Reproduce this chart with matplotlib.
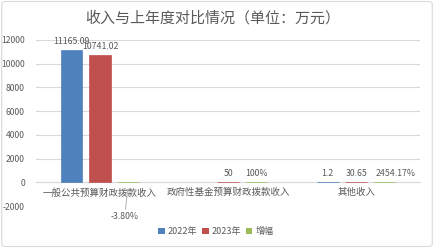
import numpy as np
import matplotlib
matplotlib.use("Agg")
import matplotlib.pyplot as plt
from matplotlib.patches import FancyBboxPatch, Patch

plt.rcParams['font.family'] = ['Noto Sans CJK SC', 'DejaVu Sans']

categories = ["一般公共预算财政拨款收入", "政府性基金预算财政拨款收入", "其他收入"]
series_names = ["2022年", "2023年", "增幅"]
values_2022 = [11165.09, np.nan, 1.2]
values_2023 = [10741.02, 50, 30.65]
growth_pct = [-3.80, 100, 2454.17]
growth_labels = ["-3.80%", "100%", "2454.17%"]
y_ticks = [-2000, 0, 2000, 4000, 6000, 8000, 10000, 12000]

colors = ["#4F81BD", "#C0504D", "#9BBB59"]
text_color = "#595959"
grid_color = "#D9D9D9"

fig = plt.figure(figsize=(4.34, 2.48), dpi=100)
fig.patches.append(FancyBboxPatch((0.004, 0.006), 0.992, 0.988,
                                  boxstyle="round,pad=0,rounding_size=0.01",
                                  transform=fig.transFigure, fill=False,
                                  edgecolor="#D9D9D9", linewidth=0.8))

ax = fig.add_axes([0.083, 0.169, 0.885, 0.670])
x = np.arange(len(categories))
w = 0.17
step = 0.222
growth_vals = [g / 100 for g in growth_pct]
series = [values_2022, values_2023, growth_vals]

for i, (vals, c) in enumerate(zip(series, colors)):
    vals = np.asarray(vals, dtype=float)
    ok = ~np.isnan(vals)
    xs = x + (i - 1) * step
    ax.bar(xs[ok], vals[ok], width=w, color=c, edgecolor=c,
           linewidth=0.5, zorder=3)

fs = 6.3
# value labels for the two year series
for i, vals in enumerate([values_2022, values_2023]):
    for j, v in enumerate(vals):
        if np.isnan(v):
            continue
        xs = x[j] + (i - 1) * step
        ax.annotate(f"{v:g}" if v < 100 else f"{v:.2f}", (xs, v),
                    xytext=(0, 3), textcoords="offset points",
                    ha="center", va="bottom", fontsize=fs, color=text_color)
# growth labels (the widest one is nudged right to clear its neighbour)
label_shift = [0, 0, 8]
for j, (g, lab) in enumerate(zip(growth_vals, growth_labels)):
    xs = x[j] + step
    if g < 0:
        ax.annotate(lab, (xs, g), xytext=(xs - 0.03, -2900),
                    textcoords="data", ha="center", va="center",
                    fontsize=fs, color=text_color,
                    arrowprops=dict(arrowstyle="-", color="#A6A6A6", lw=0.6,
                                    shrinkA=0, shrinkB=5))
    else:
        ax.annotate(lab, (xs, g), xytext=(label_shift[j], 3),
                    textcoords="offset points",
                    ha="center", va="bottom", fontsize=fs, color=text_color)

ax.set_xlim(-0.5, len(categories) - 0.5)
ax.set_ylim(-2000, 12000)
ax.set_yticks(y_ticks)
ax.set_yticklabels([str(t) for t in y_ticks], fontsize=6.2, color=text_color)
ax.yaxis.grid(True, color=grid_color, linewidth=0.8, zorder=0)
ax.set_axisbelow(True)
for s in ["top", "right", "left"]:
    ax.spines[s].set_visible(False)
ax.spines["bottom"].set_position(("data", 0))
ax.spines["bottom"].set_color(grid_color)
ax.spines["bottom"].set_linewidth(0.8)
ax.set_xticks(x)
ax.set_xticklabels(categories, fontsize=6.8, color=text_color)
ax.tick_params(axis="both", length=0)
ax.tick_params(axis="x", pad=4)
ax.tick_params(axis="y", pad=8)

fig.text(0.49, 0.925, "收入与上年度对比情况（单位：万元）", ha="center", va="center",
         fontsize=10.8, color=text_color)

handles = [Patch(facecolor=c, edgecolor="none") for c in colors]
fig.legend(handles, series_names, loc="center", bbox_to_anchor=(0.497, 0.065),
           ncol=3, frameon=False, fontsize=6.5, handlelength=0.7, handleheight=0.7,
           handletextpad=0.3, columnspacing=0.6, labelcolor=text_color)

fig.savefig("out.png", dpi=100)
